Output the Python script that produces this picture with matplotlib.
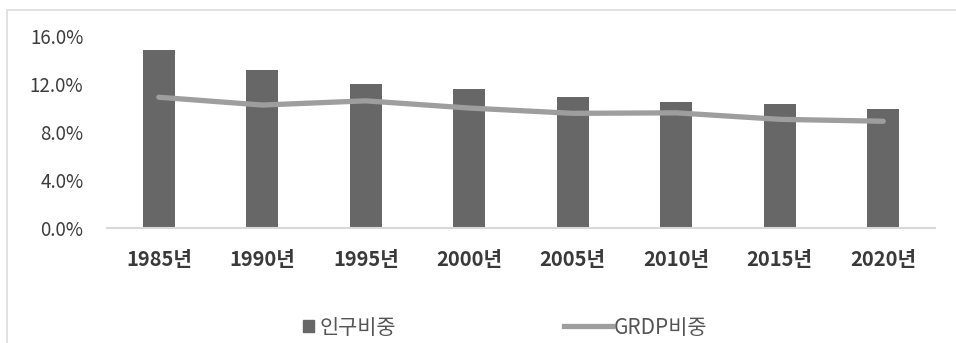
import matplotlib.pyplot as plt
import numpy as np
from matplotlib.patches import Rectangle
from matplotlib.lines import Line2D

plt.rcParams['font.family'] = ['Noto Sans CJK KR', 'DejaVu Sans']

years = ['1985년', '1990년', '1995년', '2000년', '2005년', '2010년', '2015년', '2020년']
pop_share = [14.8, 13.2, 12.0, 11.6, 10.9, 10.5, 10.3, 9.9]
grdp_share = [10.9, 10.25, 10.6, 10.0, 9.56, 9.6, 9.06, 8.9]
yticks = [0, 4, 8, 12, 16]

fig = plt.figure(figsize=(9.56, 3.43), dpi=100)
ax = fig.add_axes([0.112, 0.335, 0.866, 0.56])

x = np.arange(len(years))
ax.bar(x, pop_share, width=0.31, color='#676767', zorder=2)
ax.plot(x, grdp_share, color='#9e9e9e', linewidth=3.8, solid_capstyle='round', zorder=3)

ax.set_xlim(-0.5, len(years) - 0.5)
ax.set_ylim(0, 16)
ax.set_yticks(yticks)
ax.set_yticklabels([f'{v:.1f}%' for v in yticks], fontsize=13.5, color='#3c3c3c')
ax.set_xticks(x)
ax.set_xticklabels(years, fontsize=14.5, fontweight='bold', color='#3a3a3a')
ax.tick_params(axis='both', length=0)
ax.tick_params(axis='y', pad=17)
ax.tick_params(axis='x', pad=15)

for side in ['top', 'right', 'left']:
    ax.spines[side].set_visible(False)
ax.spines['bottom'].set_color('#d9d9d9')
ax.spines['bottom'].set_linewidth(1.5)

# outer chart frame
fig.patches.append(Rectangle((0.007, -0.1), 1.1, 1.07, transform=fig.transFigure,
                             fill=False, edgecolor='#dddddd', linewidth=1.2))

# legend: two pieces so the line handle can be longer than the square
bar_handle = Rectangle((0, 0), 1, 1, color='#676767')
line_handle = Line2D([0], [0], color='#9e9e9e', linewidth=3.8)
fig.legend([bar_handle], ['인구비중'], loc='center', bbox_to_anchor=(0.366, 0.045),
           frameon=False, fontsize=15, labelcolor='#555555',
           handlelength=0.5, handleheight=0.5, handletextpad=0.3)
fig.legend([line_handle], ['GRDP비중'], loc='center', bbox_to_anchor=(0.665, 0.045),
           frameon=False, fontsize=15, labelcolor='#555555',
           handlelength=2.3, handletextpad=0.1)

fig.savefig('out.png', dpi=100)
